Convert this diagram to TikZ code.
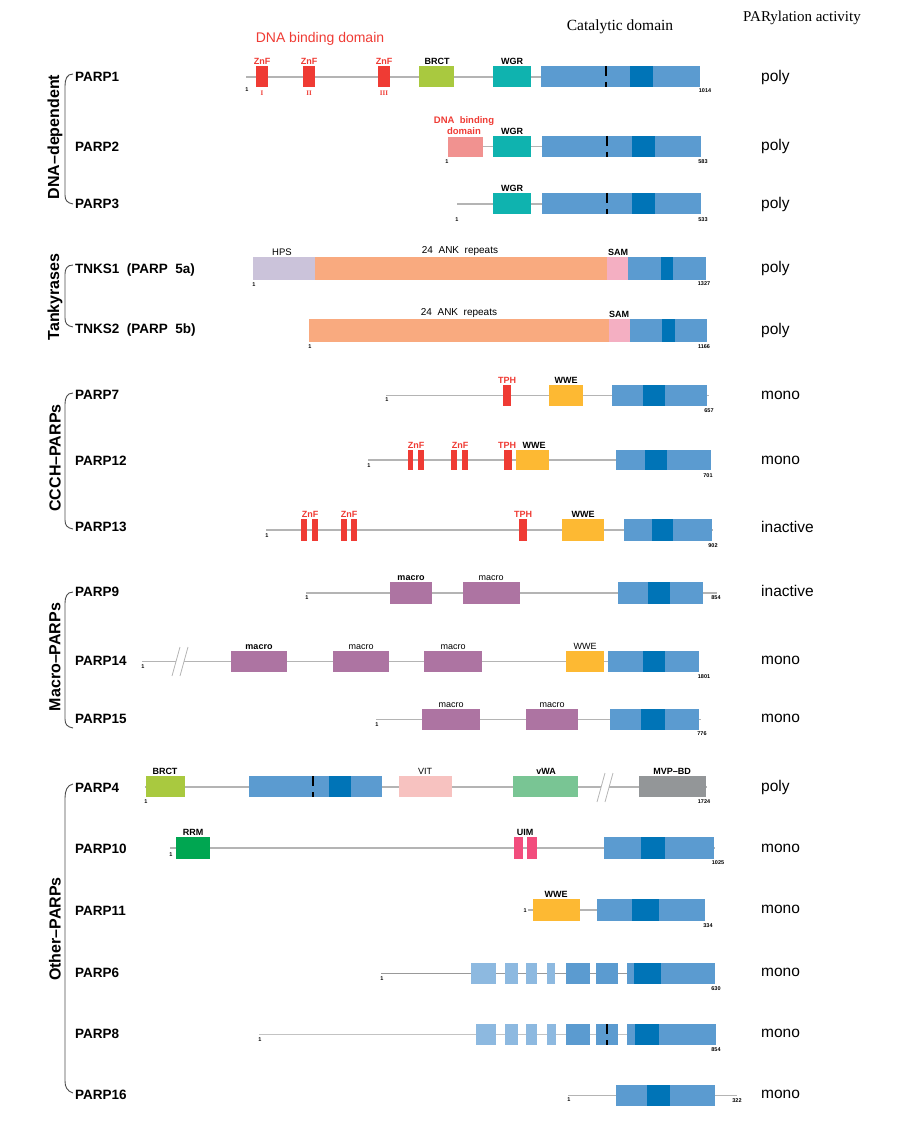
\documentclass[tikz,border=0pt]{standalone}
\usepackage{fontspec}
\setmainfont{Liberation Sans}
\newfontfamily\headfont{Liberation Serif}
\usepackage{xcolor}

\definecolor{catlight}{HTML}{5B9BD0}
\definecolor{catdark}{HTML}{0074B7}
\definecolor{catpale}{HTML}{8DB9E0}
\definecolor{znfred}{HTML}{EF3B34}
\definecolor{brctgreen}{HTML}{A9C93F}
\definecolor{wgrteal}{HTML}{0FB3AF}
\definecolor{dbdpink}{HTML}{F19290}
\definecolor{hpslav}{HTML}{CBC3DA}
\definecolor{ankorange}{HTML}{F9AA7F}
\definecolor{sampink}{HTML}{F4AFC2}
\definecolor{wweyellow}{HTML}{FDB933}
\definecolor{macropurple}{HTML}{AD74A2}
\definecolor{vitpink}{HTML}{F7C2C0}
\definecolor{vwagreen}{HTML}{79C594}
\definecolor{mvpgray}{HTML}{939698}
\definecolor{rrmgreen}{HTML}{00A651}
\definecolor{uimpink}{HTML}{F24D7D}
\definecolor{linegray}{HTML}{B4B4B4}

\begin{document}
\begin{tikzpicture}[x=1pt, y=-1pt,
  bb/.style={draw=linegray, line width=1.1pt},
  brk/.style={draw=linegray, line width=0.8pt},
  grpline/.style={draw=black!70, line width=0.9pt},
  catmark/.style={draw=black, line width=1.3pt},
  pname/.style={anchor=west, inner sep=0pt, font=\bfseries\fontsize{13.5}{15}\selectfont},
  pact/.style={anchor=west, inner sep=0pt, font=\fontsize{15.5}{17}\selectfont},
  grp/.style={rotate=90, inner sep=0pt, font=\bfseries\fontsize{16}{18}\selectfont},
  dlab/.style={anchor=south, inner sep=0.5pt, font=\bfseries\fontsize{9}{10.5}\selectfont},
  rlab/.style={dlab, text=znfred},
  num/.style={inner sep=0pt, font=\bfseries\fontsize{5.5}{6}\selectfont}]
\useasboundingbox (0,0) rectangle (900,1123);

% headings
\node[text=znfred, font=\fontsize{14}{16}\selectfont] (dbdhead) at (320,39) {DNA binding domain};
\node[font=\headfont\fontsize{15.5}{17}\selectfont] (cathead) at (620,27) {Catalytic domain};
\node[font=\headfont\fontsize{15}{17}\selectfont] (acthead) at (802,18) {PARylation activity};

% group brackets
\draw[grpline] (73,74) .. controls (67,74) and (65,79) .. (65,86) -- (65,195) .. controls (65,200) and (67,203) .. (73,204);
\draw[grpline] (73,265) .. controls (67,265) and (65,269) .. (65,274) -- (65,318) .. controls (65,323) and (67,326) .. (73,327);
\draw[grpline] (73,393) .. controls (67,393) and (65,398) .. (65,404) -- (65,520) .. controls (65,525) and (67,528) .. (73,529);
\draw[grpline] (73,592) .. controls (67,592) and (65,597) .. (65,603) -- (65,719) .. controls (65,724) and (67,727) .. (73,728);
\draw[grpline] (73,784) .. controls (67,785) and (65,791) .. (65,798) -- (65,1081) .. controls (65,1087) and (67,1091) .. (73,1093);
\node[grp] (g1) at (55,137) {DNA--dependent};
\node[grp] (g2) at (55,297) {Tankyrases};
\node[grp] (g3) at (55,458) {CCCH--PARPs};
\node[grp] (g4) at (55,657) {Macro--PARPs};
\node[grp] (g5) at (55,929) {Other--PARPs};

% protein names
\node[pname] (p1) at (75,77) {PARP1};
\node[pname] (p2) at (75,147) {PARP2};
\node[pname] (p3) at (75,204) {PARP3};
\node[pname] (p5a) at (75,270) {TNKS1 \ (PARP \ 5a)};
\node[pname] (p5b) at (75,330) {TNKS2 \ (PARP \ 5b)};
\node[pname] (p7) at (75,395) {PARP7};
\node[pname] (p12) at (75,461) {PARP12};
\node[pname] (p13) at (75,527) {PARP13};
\node[pname] (p9) at (75,592) {PARP9};
\node[pname] (p14) at (75,661) {PARP14};
\node[pname] (p15) at (75,719) {PARP15};
\node[pname] (p4) at (75,788) {PARP4};
\node[pname] (p10) at (75,849) {PARP10};
\node[pname] (p11) at (75,911) {PARP11};
\node[pname] (p6) at (75,973) {PARP6};
\node[pname] (p8) at (75,1034) {PARP8};
\node[pname] (p16) at (75,1095) {PARP16};

% activity
\node[pact] (a1) at (761,77) {poly};
\node[pact] (a2) at (761,146) {poly};
\node[pact] (a3) at (761,204) {poly};
\node[pact] (a5a) at (761,268) {poly};
\node[pact] (a5b) at (761,330) {poly};
\node[pact] (a7) at (761,395) {mono};
\node[pact] (a12) at (761,460) {mono};
\node[pact] (a13) at (761,527) {inactive};
\node[pact] (a9) at (761,591) {inactive};
\node[pact] (a14) at (761,660) {mono};
\node[pact] (a15) at (761,718) {mono};
\node[pact] (a4) at (761,787) {poly};
\node[pact] (a10) at (761,848) {mono};
\node[pact] (a11) at (761,909) {mono};
\node[pact] (a6) at (761,972) {mono};
\node[pact] (a8) at (761,1033) {mono};
\node[pact] (a16) at (761,1094) {mono};

% PARP1
\draw[bb] (246,77) -- (700,77);
\fill[znfred] (256,66) rectangle (268,87);
\fill[znfred] (303,66) rectangle (315,87);
\fill[znfred] (378,66) rectangle (390,87);
\fill[brctgreen] (419,66) rectangle (454,87);
\fill[wgrteal] (493,66) rectangle (531,87);
\fill[catlight] (541,66) rectangle (700,87);
\fill[catdark] (630,66) rectangle (653,87);
\draw[catmark] (606,66) -- (606,76) (606,82) -- (606,87);
\node[rlab] (z1a) at (262,65) {ZnF};
\node[rlab] (z1b) at (309,65) {ZnF};
\node[rlab] (z1c) at (384,65) {ZnF};
\node[text=znfred, font=\headfont\bfseries\fontsize{7}{8}\selectfont, inner sep=0pt] (r1a) at (262,93) {I};
\node[text=znfred, font=\headfont\bfseries\fontsize{7}{8}\selectfont, inner sep=0pt] (r1b) at (309,93) {II};
\node[text=znfred, font=\headfont\bfseries\fontsize{7}{8}\selectfont, inner sep=0pt] (r1c) at (384,93) {III};
\node[dlab] (l1a) at (437,65) {BRCT};
\node[dlab] (l1b) at (512,65) {WGR};
\node[num] (s1) at (247,90) {1};
\node[num] (e1) at (705,91) {1014};

% PARP2
\draw[bb] (483,146.5) -- (542,146.5);
\fill[dbdpink] (448,137) rectangle (483,157);
\fill[wgrteal] (493,136) rectangle (531,157);
\fill[catlight] (542,136) rectangle (701,157);
\fill[catdark] (632,136) rectangle (655,157);
\draw[catmark] (607,136) -- (607,146) (607,152) -- (607,157);
\node[rlab, align=center, font=\bfseries\fontsize{9.5}{10.5}\selectfont] (l2a) at (464,135) {DNA \ binding\\domain};
\node[dlab] (l2b) at (512,135) {WGR};
\node[num] (s2) at (447,162) {1};
\node[num] (e2) at (703,162) {583};

% PARP3
\draw[bb] (457,204) -- (542,204);
\fill[wgrteal] (493,193) rectangle (531,214);
\fill[catlight] (542,193) rectangle (701,214);
\fill[catdark] (632,193) rectangle (655,214);
\draw[catmark] (607,193) -- (607,203) (607,209) -- (607,214);
\node[dlab] (l3a) at (512,192) {WGR};
\node[num] (s3) at (457,220) {1};
\node[num] (e3) at (703,220) {533};

% TNKS1
\fill[hpslav] (253,257) rectangle (315,280);
\fill[ankorange] (315,257) rectangle (607,280);
\fill[sampink] (607,257) rectangle (628,280);
\fill[catlight] (628,257) rectangle (706,280);
\fill[catdark] (661,257) rectangle (673,280);
\node[dlab, font=\fontsize{9.5}{10.5}\selectfont] (l5a) at (282,256) {HPS};
\node[dlab, font=\fontsize{10}{11}\selectfont] (l5b) at (460,256) {24 \ ANK \ repeats};
\node[dlab] (l5c) at (618,256) {SAM};
\node[num] (s5a) at (254,285) {1};
\node[num] (e5a) at (704,284) {1327};

% TNKS2
\fill[ankorange] (309,319) rectangle (609,342);
\fill[sampink] (609,319) rectangle (630,342);
\fill[catlight] (630,319) rectangle (707,342);
\fill[catdark] (662,319) rectangle (675,342);
\node[dlab, font=\fontsize{10}{11}\selectfont] (l5d) at (459,318) {24 \ ANK \ repeats};
\node[dlab] (l5e) at (619,318) {SAM};
\node[num] (s5b) at (310,347) {1};
\node[num] (e5b) at (704,347) {1166};

% PARP7
\draw[bb] (386,395.5) -- (709,395.5);
\fill[znfred] (503,385) rectangle (511,406);
\fill[wweyellow] (549,385) rectangle (583,406);
\fill[catlight] (612,385) rectangle (707,406);
\fill[catdark] (643,385) rectangle (665,406);
\node[rlab] (l7a) at (507,384) {TPH};
\node[dlab] (l7b) at (566,384) {WWE};
\node[num] (s7) at (387,400) {1};
\node[num] (e7) at (709,411) {657};

% PARP12
\draw[bb] (368,460) -- (711,460);
\fill[znfred] (408,450) rectangle (413,470);
\fill[znfred] (418,450) rectangle (424,470);
\fill[znfred] (451,450) rectangle (457,470);
\fill[znfred] (462,450) rectangle (468,470);
\fill[znfred] (504,450) rectangle (512,470);
\fill[wweyellow] (516,450) rectangle (549,470);
\fill[catlight] (616,450) rectangle (711,470);
\fill[catdark] (645,450) rectangle (667,470);
\node[rlab] (l12a) at (416,449) {ZnF};
\node[rlab] (l12b) at (460,449) {ZnF};
\node[rlab] (l12c) at (507,449) {TPH};
\node[dlab] (l12d) at (534,449) {WWE};
\node[num] (s12) at (369,466) {1};
\node[num] (e12) at (708,476) {701};

% PARP13
\draw[bb] (266,530) -- (713,530);
\fill[znfred] (301,519) rectangle (307,541);
\fill[znfred] (312,519) rectangle (318,541);
\fill[znfred] (341,519) rectangle (347,541);
\fill[znfred] (351,519) rectangle (357,541);
\fill[znfred] (519,519) rectangle (527,541);
\fill[wweyellow] (562,519) rectangle (604,541);
\fill[catlight] (624,519) rectangle (712,541);
\fill[catdark] (652,519) rectangle (673,541);
\node[rlab] (l13a) at (310,518) {ZnF};
\node[rlab] (l13b) at (349,518) {ZnF};
\node[rlab] (l13c) at (523,518) {TPH};
\node[dlab] (l13d) at (583,518) {WWE};
\node[num] (s13) at (267,536) {1};
\node[num] (e13) at (713,546) {902};

% PARP9
\draw[bb] (306,593) -- (717,593);
\fill[macropurple] (390,582) rectangle (432,604);
\fill[macropurple] (463,582) rectangle (520,604);
\fill[catlight] (618,582) rectangle (703,604);
\fill[catdark] (648,582) rectangle (670,604);
\node[dlab] (l9a) at (411,581) {macro};
\node[dlab, font=\fontsize{9}{10.5}\selectfont] (l9b) at (491,581) {macro};
\node[num] (s9) at (307,598) {1};
\node[num] (e9) at (716,598) {854};

% PARP14
\draw[bb] (142,661.5) -- (176,661.5);
\draw[bb] (184,661.5) -- (699,661.5);
\draw[brk] (172,676) -- (180,647);
\draw[brk] (180,676) -- (188,647);
\fill[macropurple] (231,651) rectangle (287,672);
\fill[macropurple] (333,651) rectangle (389,672);
\fill[macropurple] (424,651) rectangle (482,672);
\fill[wweyellow] (566,651) rectangle (604,672);
\fill[catlight] (608,651) rectangle (699,672);
\fill[catdark] (643,651) rectangle (665,672);
\node[dlab] (l14a) at (259,650) {macro};
\node[dlab, font=\fontsize{9}{10.5}\selectfont] (l14b) at (361,650) {macro};
\node[dlab, font=\fontsize{9}{10.5}\selectfont] (l14c) at (453,650) {macro};
\node[dlab, font=\fontsize{9}{10.5}\selectfont] (l14d) at (585,650) {WWE};
\node[num] (s14) at (143,667) {1};
\node[num] (e14) at (704,677) {1801};

% PARP15
\draw[bb] (376,719.5) -- (701,719.5);
\fill[macropurple] (422,709) rectangle (480,730);
\fill[macropurple] (526,709) rectangle (578,730);
\fill[catlight] (610,709) rectangle (699,730);
\fill[catdark] (641,709) rectangle (665,730);
\node[dlab, font=\fontsize{9}{10.5}\selectfont] (l15a) at (451,708) {macro};
\node[dlab, font=\fontsize{9}{10.5}\selectfont] (l15b) at (552,708) {macro};
\node[num] (s15) at (377,725) {1};
\node[num] (e15) at (702,734) {776};

% PARP4
\draw[bb] (145,787) -- (601,787);
\draw[bb] (609,787) -- (707,787);
\draw[brk] (597,802) -- (605,773);
\draw[brk] (605,802) -- (613,773);
\fill[brctgreen] (146,776) rectangle (185,797);
\fill[catlight] (249,776) rectangle (382,797);
\fill[catdark] (329,776) rectangle (351,797);
\draw[catmark] (313,776) -- (313,786) (313,792) -- (313,797);
\fill[vitpink] (399,776) rectangle (452,797);
\fill[vwagreen] (513,776) rectangle (578,797);
\fill[mvpgray] (639,776) rectangle (706,797);
\node[dlab] (l4a) at (165,775) {BRCT};
\node[dlab, font=\fontsize{9}{10.5}\selectfont] (l4b) at (425,775) {VIT};
\node[dlab] (l4c) at (546,775) {vWA};
\node[dlab] (l4d) at (672,775) {MVP--BD};
\node[num] (s4) at (146,802) {1};
\node[num] (e4) at (704,802) {1724};

% PARP10
\draw[bb] (170,848) -- (715,848);
\fill[rrmgreen] (176,837) rectangle (210,859);
\fill[uimpink] (514,837) rectangle (523,859);
\fill[uimpink] (527,837) rectangle (537,859);
\fill[catlight] (604,837) rectangle (714,859);
\fill[catdark] (641,837) rectangle (665,859);
\node[dlab] (l10a) at (193,836) {RRM};
\node[dlab] (l10b) at (525,836) {UIM};
\node[num] (s10) at (171,855) {1};
\node[num] (e10) at (718,863) {1025};

% PARP11
\draw[bb] (528,910) -- (597,910);
\fill[wweyellow] (533,899) rectangle (580,921);
\fill[catlight] (597,899) rectangle (705,921);
\fill[catdark] (632,899) rectangle (659,921);
\node[dlab] (l11a) at (556,898) {WWE};
\node[num, anchor=east] (s11) at (527,911) {1};
\node[num] (e11) at (708,926) {334};

% PARP6
\draw[draw=black!40, line width=1.5pt] (381,973.5) -- (627,973.5);
\fill[catpale] (471,963) rectangle (496,984);
\fill[catpale] (505,963) rectangle (518,984);
\fill[catpale] (526,963) rectangle (537,984);
\fill[catpale] (547,963) rectangle (555,984);
\fill[catlight] (566,963) rectangle (590,984);
\fill[catlight] (596,963) rectangle (618,984);
\fill[catlight] (627,963) rectangle (715,984);
\fill[catdark] (634,963) rectangle (661,984);
\node[num] (s6) at (382,979) {1};
\node[num] (e6) at (716,989) {630};

% PARP8
\draw[draw=linegray!80, line width=0.7pt] (259,1034.5) -- (627,1034.5);
\fill[catpale] (476,1024) rectangle (496,1045);
\fill[catpale] (505,1024) rectangle (518,1045);
\fill[catpale] (526,1024) rectangle (537,1045);
\fill[catpale] (547,1024) rectangle (556,1045);
\fill[catlight] (566,1024) rectangle (590,1045);
\fill[catlight] (596,1024) rectangle (618,1045);
\draw[catmark] (607,1024) -- (607,1034) (607,1040) -- (607,1045);
\fill[catlight] (627,1024) rectangle (716,1045);
\fill[catdark] (635,1024) rectangle (659,1045);
\node[num] (s8) at (260,1040) {1};
\node[num] (e8) at (716,1050) {854};

% PARP16
\draw[bb] (568,1095.5) -- (737,1095.5);
\fill[catlight] (616,1085) rectangle (715,1106);
\fill[catdark] (647,1085) rectangle (670,1106);
\node[num] (s16) at (569,1100) {1};
\node[num] (e16) at (737,1101) {322};
\end{tikzpicture}
\end{document}
